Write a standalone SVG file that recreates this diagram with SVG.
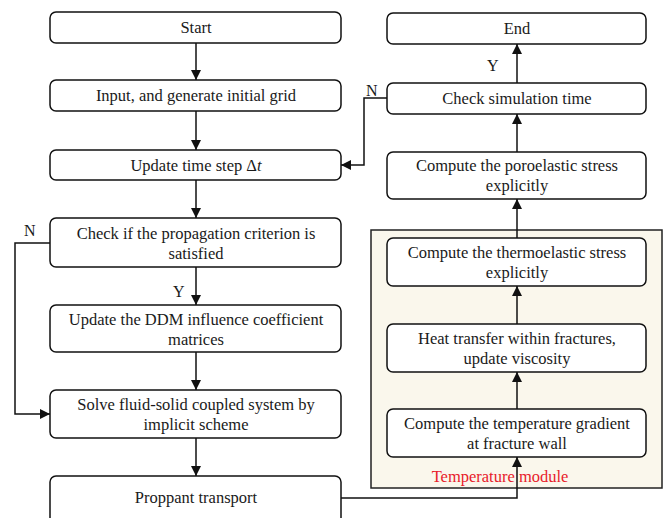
<svg xmlns="http://www.w3.org/2000/svg" width="665" height="518" viewBox="0 0 665 518">
<style>
.box{fill:#fff;stroke:#111;stroke-width:1.5}
.t{font-family:'Liberation Serif','DejaVu Serif',serif;font-size:16.5px;fill:#1a1a1a;text-anchor:middle}
.lbl{font-family:'Liberation Serif','DejaVu Serif',serif;font-size:16px;fill:#1a1a1a}
.c{fill:none;stroke:#111;stroke-width:1.5}
</style>
<defs>
<marker id="ah" viewBox="0 0 10 10" refX="10" refY="5" markerWidth="10" markerHeight="10" markerUnits="userSpaceOnUse" orient="auto">
<path d="M0,0 L10,5 L0,10 z" fill="#111"/>
</marker>
</defs>
<rect width="665" height="518" fill="#fff"/>
<g id="temperature-module">
<rect x="371" y="230" width="291" height="258" fill="#faf7ec" stroke="#222" stroke-width="1.5"/>
<text x="500" y="482" class="t" style="fill:#e8202a">Temperature module</text>
</g>
<g id="connectors">
<line x1="196" y1="43" x2="196" y2="80" class="c" marker-end="url(#ah)"/>
<line x1="196" y1="111" x2="196" y2="150" class="c" marker-end="url(#ah)"/>
<line x1="196" y1="180" x2="196" y2="218" class="c" marker-end="url(#ah)"/>
<line x1="196" y1="267" x2="196" y2="305" class="c" marker-end="url(#ah)"/>
<line x1="196" y1="352" x2="196" y2="390" class="c" marker-end="url(#ah)"/>
<line x1="196" y1="438" x2="196" y2="476" class="c" marker-end="url(#ah)"/>
<polyline points="50,243 15,243 15,414 50,414" class="c" marker-end="url(#ah)"/>
<polyline points="341,498 517,498 517,457" class="c" marker-end="url(#ah)"/>
<line x1="517" y1="409" x2="517" y2="372" class="c" marker-end="url(#ah)"/>
<line x1="517" y1="324" x2="517" y2="286" class="c" marker-end="url(#ah)"/>
<line x1="517" y1="238" x2="517" y2="199" class="c" marker-end="url(#ah)"/>
<line x1="517" y1="152" x2="517" y2="114" class="c" marker-end="url(#ah)"/>
<line x1="517" y1="83" x2="517" y2="44" class="c" marker-end="url(#ah)"/>
<polyline points="387,98 364,98 364,165 341,165" class="c" marker-end="url(#ah)"/>
<text x="24" y="236" class="lbl">N</text>
<text x="173" y="297" class="lbl">Y</text>
<text x="366" y="96" class="lbl">N</text>
<text x="487" y="71" class="lbl">Y</text>
</g>
<g id="start"><rect x="50" y="12" width="291" height="31" rx="6" class="box"/><text x="196" y="33" class="t">Start</text></g>
<g id="input"><rect x="50" y="80" width="291" height="31" rx="6" class="box"/><text x="196" y="101" class="t">Input, and generate initial grid</text></g>
<g id="update-time"><rect x="50" y="150" width="291" height="30" rx="6" class="box"/><text x="196" y="171" class="t">Update time step Δ<tspan font-style="italic">t</tspan></text></g>
<g id="check-propagation"><rect x="50" y="218" width="291" height="49" rx="6" class="box"/><text x="196" y="239" class="t">Check if the propagation criterion is</text><text x="196" y="259" class="t">satisfied</text></g>
<g id="update-ddm"><rect x="50" y="305" width="291" height="47" rx="6" class="box"/><text x="196" y="325" class="t">Update the DDM influence coefficient</text><text x="196" y="345" class="t">matrices</text></g>
<g id="solve"><rect x="50" y="390" width="291" height="48" rx="6" class="box"/><text x="196" y="410" class="t">Solve fluid-solid coupled system by</text><text x="196" y="430" class="t">implicit scheme</text></g>
<g id="proppant"><rect x="50" y="476" width="291" height="48" rx="6" class="box"/><text x="196" y="503" class="t">Proppant transport</text></g>
<g id="end"><rect x="387" y="13" width="259" height="31" rx="6" class="box"/><text x="517" y="34" class="t">End</text></g>
<g id="check-sim"><rect x="387" y="83" width="259" height="31" rx="6" class="box"/><text x="517" y="104" class="t">Check simulation time</text></g>
<g id="poroelastic"><rect x="387" y="152" width="259" height="47" rx="6" class="box"/><text x="517" y="171" class="t">Compute the poroelastic stress</text><text x="517" y="191" class="t">explicitly</text></g>
<g id="thermoelastic"><rect x="387" y="238" width="259" height="48" rx="6" class="box"/><text x="517" y="258" class="t">Compute the thermoelastic stress</text><text x="517" y="278" class="t">explicitly</text></g>
<g id="heat-transfer"><rect x="387" y="324" width="259" height="48" rx="6" class="box"/><text x="517" y="344" class="t">Heat transfer within fractures,</text><text x="517" y="364" class="t">update viscosity</text></g>
<g id="temp-gradient"><rect x="387" y="409" width="259" height="48" rx="6" class="box"/><text x="517" y="429" class="t">Compute the temperature gradient</text><text x="517" y="449" class="t">at fracture wall</text></g>
</svg>
